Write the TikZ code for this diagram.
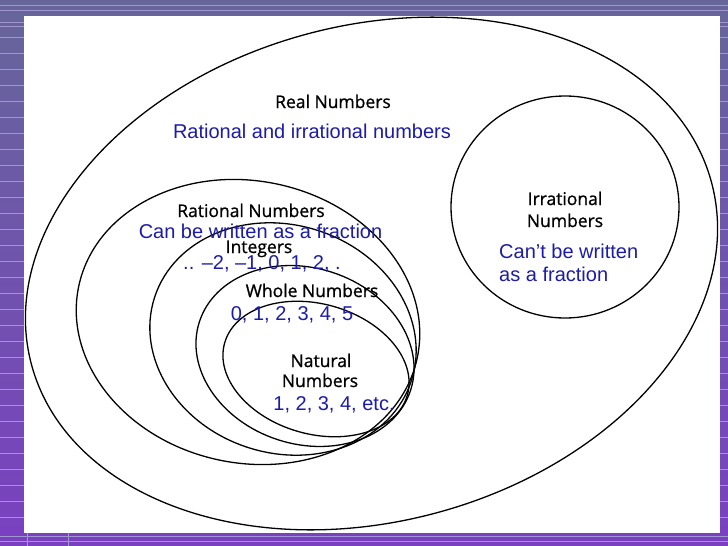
\documentclass[tikz,border=0pt]{standalone}
\usepackage{fontspec}
\setmainfont{Liberation Sans}
\newfontfamily\lblfont{Open Sans}[FakeBold=0.9]
\definecolor{bluetxt}{RGB}{28,28,168}
\definecolor{bgtop}{RGB}{102,102,154}
\definecolor{bgbot}{RGB}{122,64,192}
\definecolor{stripec}{RGB}{160,150,210}
\begin{document}
\begin{tikzpicture}[x=1pt,y=-1pt,
  setline/.style={line width=1.3pt,black},
  stripe/.style={stripec,line width=0.8pt},
  blk/.style={inner sep=0pt,font=\lblfont\fontsize{17.5}{19}\selectfont,text=black},
  blu/.style={inner sep=0pt,font=\fontsize{20}{22}\selectfont,text=bluetxt}]
\useasboundingbox (0,0) rectangle (728,546);
% background
\shade[top color=bgtop,bottom color=bgbot] (0,0) rectangle (728,546);
\foreach \yy in {5,10} \draw[stripe] (0,\yy) -- (728,\yy);
\foreach \yy in {22,26,37,53,69,85,101,117,133,149,165,181,197,213,229,245,261,277,293,309,325,341,357,373,389,405,421,437,453,469,485,501,517}
  {\draw[stripe] (0,\yy) -- (24,\yy); \draw[stripe] (720,\yy) -- (728,\yy);}
\foreach \yy in {536,541} \draw[stripe] (0,\yy) -- (728,\yy);
\draw[stripe] (27,533) -- (27,546);
\draw[stripe] (68,533) -- (68,546);
\fill[white] (24,16) rectangle (720,533);
% sets
\draw[setline,rotate around={15:(371.5,273.5)}] (371.5,273.5) ellipse [x radius=352pt,y radius=248pt];
\draw[setline] (565,207) ellipse [x radius=114pt,y radius=111pt];
\draw[setline,rotate around={-12:(248,322)}] (248,322) ellipse [x radius=173pt,y radius=141pt];
\draw[setline,rotate around={-18:(283,339)}] (283,339) ellipse [x radius=135pt,y radius=114pt];
\draw[setline,rotate around={-18:(305,356)}] (305,356) ellipse [x radius=111pt,y radius=88pt];
\draw[setline,rotate around={-16:(316,369)}] (316,369) ellipse [x radius=95pt,y radius=65pt];
% labels
\node[blk,anchor=base] (real) at (333,108) {Real Numbers};
\node[blu,anchor=base] (realdesc) at (312,138) {Rational and irrational numbers};
\node[blk,anchor=base] (rat) at (251,217) {Rational Numbers};
\node[blu,anchor=base] (ratdesc) at (260.5,238) {Can be written as a fraction};
\node[blk,anchor=base] (int) at (259,253) {Integers};
\node[blu,anchor=base] (intdesc) at (262,269) {.. –2, –1, 0, 1, 2, .};
\node[blk,anchor=base] (whole) at (312,297) {Whole Numbers};
\node[blu,anchor=base] (wholedesc) at (292,320) {0, 1, 2, 3, 4, 5};
\node[blk,anchor=base] (nat1) at (321,367) {Natural};
\node[blk,anchor=base] (nat2) at (320,387) {Numbers};
\node[blu,anchor=base] (natdesc) at (334,410) {1, 2, 3, 4, etc.};
\node[blk,anchor=base] (irr1) at (565,205) {Irrational};
\node[blk,anchor=base] (irr2) at (565,227) {Numbers};
\node[blu,anchor=base west] (irrdesc1) at (499,258) {Can’t be written};
\node[blu,anchor=base west] (irrdesc2) at (499,281) {as a fraction};
\end{tikzpicture}
\end{document}
